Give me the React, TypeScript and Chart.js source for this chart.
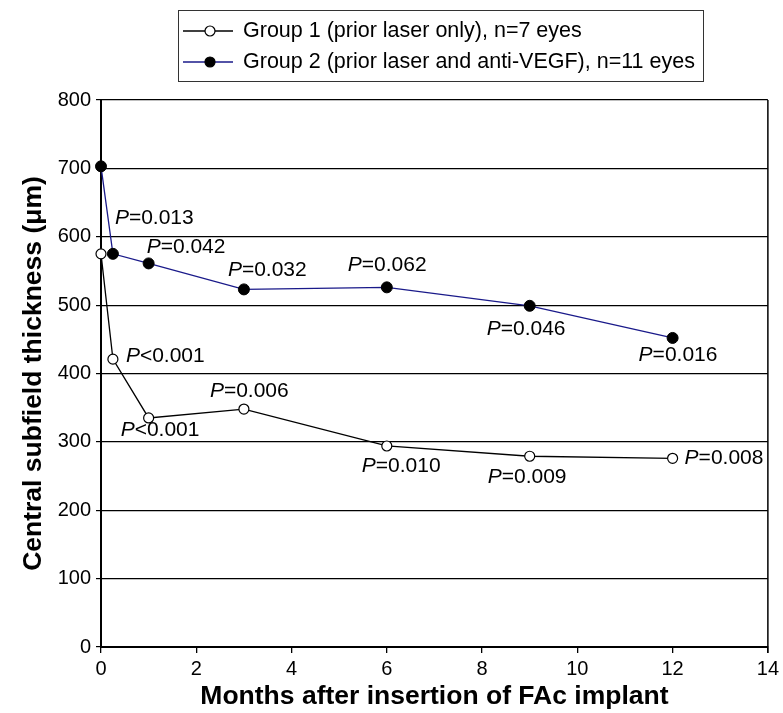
import React, { useEffect, useRef } from "react";
import { Chart, registerables } from "chart.js";

Chart.register(...registerables);

// ---- data ----
const months = [0, 0.25, 1, 3, 6, 9, 12];
const group1Values = [575, 421, 335, 348, 294, 279, 276];
const group2Values = [703, 575, 561, 523, 526, 499, 452];
const group1P = ["", "<0.001", "<0.001", "=0.006", "=0.010", "=0.009", "=0.008"];
const group2P = ["", "=0.013", "=0.042", "=0.032", "=0.062", "=0.046", "=0.016"];
const seriesNames = [
  "Group 1 (prior laser only), n=7 eyes",
  "Group 2 (prior laser and anti-VEGF), n=11 eyes",
];
const xTitle = "Months after insertion of FAc implant";
const yTitle = "Central subfield thickness (\u03bcm)";

// ---- label placement (pixel offsets from each point: left edge, vertical centre) ----
const group1LabelOffsets: (number[] | null)[] = [null, [13, -3], [-28, 12], [-34, -18], [-25, 20], [-42, 21], [12, 0]];
const group2LabelOffsets: (number[] | null)[] = [null, [2, -36], [-2, -16], [-16, -19], [-39, -22], [-43, 23], [-34, 17]];

const FONT = "'Liberation Sans', Arial, sans-serif";
const G1_COLOR = "#000000";
const G2_COLOR = "#1a1a8a";

const annotate = {
  id: "annotate",
  afterDatasetsDraw(chart: any) {
    const ctx = chart.ctx;
    const sx = chart.scales.x;
    const sy = chart.scales.y;
    ctx.save();
    ctx.strokeStyle = "#000";
    ctx.lineWidth = 1.5;
    ctx.beginPath();
    ctx.moveTo(chart.chartArea.right, chart.chartArea.top);
    ctx.lineTo(chart.chartArea.right, chart.chartArea.bottom + 6);
    ctx.stroke();

    const drawLabels = (vals: number[], labels: string[], offs: (number[] | null)[]) => {
      ctx.fillStyle = "#000";
      ctx.textBaseline = "middle";
      ctx.textAlign = "left";
      months.forEach((m, i) => {
        const o = offs[i];
        if (!o || !labels[i]) return;
        const px = sx.getPixelForValue(m) + o[0];
        const py = sy.getPixelForValue(vals[i]) + o[1];
        ctx.font = `italic 21px ${FONT}`;
        ctx.fillText("P", px, py);
        const w = ctx.measureText("P").width;
        ctx.font = `21px ${FONT}`;
        ctx.fillText(labels[i], px + w, py);
      });
    };
    drawLabels(group1Values, group1P, group1LabelOffsets);
    drawLabels(group2Values, group2P, group2LabelOffsets);
    ctx.restore();
  },
  afterDraw(chart: any) {
    const ctx = chart.ctx;
    ctx.save();
    ctx.strokeStyle = "#333";
    ctx.lineWidth = 1;
    ctx.strokeRect(178.5, 10.5, 525, 71);
    const rows = [
      { y: 31, color: G1_COLOR, fill: "#ffffff", text: seriesNames[0] },
      { y: 62, color: G2_COLOR, fill: "#000000", text: seriesNames[1] },
    ];
    rows.forEach((r) => {
      ctx.strokeStyle = r.color;
      ctx.lineWidth = 1.3;
      ctx.beginPath();
      ctx.moveTo(183, r.y);
      ctx.lineTo(233, r.y);
      ctx.stroke();
      ctx.beginPath();
      ctx.arc(210, r.y, 5, 0, Math.PI * 2);
      ctx.fillStyle = r.fill;
      ctx.fill();
      ctx.strokeStyle = "#000";
      ctx.lineWidth = 1.2;
      ctx.stroke();
      ctx.fillStyle = "#000";
      ctx.font = `21.5px ${FONT}`;
      ctx.textBaseline = "middle";
      ctx.textAlign = "left";
      ctx.fillText(r.text, 243, r.y);
    });
    ctx.restore();
  },
};

export default function App() {
  const ref = useRef<HTMLCanvasElement | null>(null);
  useEffect(() => {
    document.body.style.margin = "0";
    const canvas = ref.current!;
    const chart = new Chart(canvas, {
      type: "line",
      data: {
        datasets: [
          {
            label: seriesNames[0],
            data: months.map((m, i) => ({ x: m, y: group1Values[i] })),
            borderColor: G1_COLOR,
            borderWidth: 1.3,
            pointRadius: 5,
            pointBackgroundColor: "#ffffff",
            pointBorderColor: "#000000",
            pointBorderWidth: 1.2,
            tension: 0,
            clip: false as any,
          },
          {
            label: seriesNames[1],
            data: months.map((m, i) => ({ x: m, y: group2Values[i] })),
            borderColor: G2_COLOR,
            borderWidth: 1.3,
            pointRadius: 5.5,
            pointBackgroundColor: "#000000",
            pointBorderColor: "#000000",
            pointBorderWidth: 1,
            tension: 0,
            clip: false as any,
          },
        ],
      },
      options: {
        responsive: false,
        animation: false,
        devicePixelRatio: 1,
        layout: { padding: { top: 100, right: 14, left: 0, bottom: 0 } },
        plugins: { legend: { display: false }, tooltip: { enabled: false } },
        scales: {
          x: {
            type: "linear",
            min: 0,
            max: 14,
            afterFit: (s: any) => { s.height = 66; },
            ticks: { stepSize: 2, color: "#000", font: { family: FONT, size: 20 }, padding: 4, maxRotation: 0 },
            grid: { drawOnChartArea: false, drawTicks: true, tickLength: 6, color: "#000", lineWidth: 1.3 },
            border: { color: "#000", width: 2 },
            title: { display: true, text: xTitle, color: "#000", font: { family: FONT, size: 26.5, weight: "bold" }, padding: { top: 0, bottom: 0 } },
          },
          y: {
            min: 0,
            max: 800,
            afterFit: (s: any) => { s.width = 101; },
            ticks: { stepSize: 100, color: "#000", font: { family: FONT, size: 20 }, padding: 5 },
            grid: { color: "#000", lineWidth: 1.2, tickLength: 5 },
            border: { color: "#000", width: 2 },
            title: { display: true, text: yTitle, color: "#000", font: { family: FONT, size: 26.5, weight: "bold" }, padding: { top: 18, bottom: 0 } },
          },
        },
      },
      plugins: [annotate],
    });
    return () => chart.destroy();
  }, []);
  return (
    <div style={{ width: 783, height: 713 }}>
      <canvas ref={ref} width={783} height={713} style={{ display: "block" }} />
    </div>
  );
}
